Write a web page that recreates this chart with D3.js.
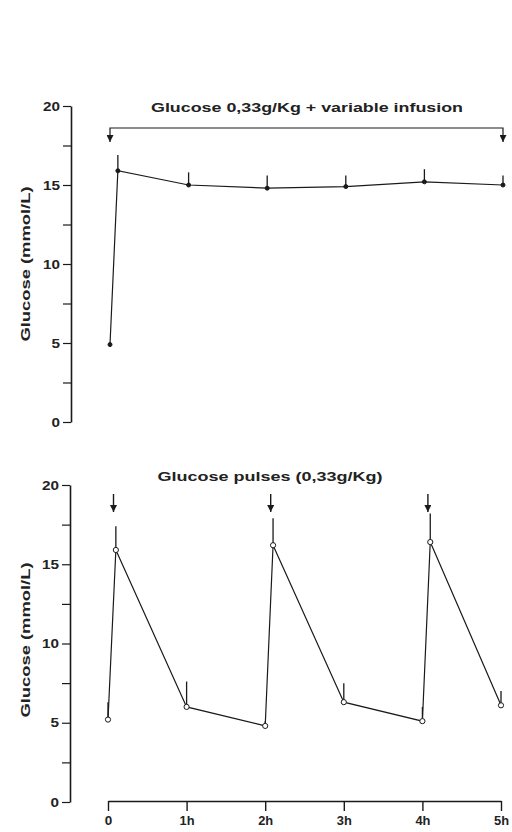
<!DOCTYPE html>
<html>
<head>
<meta charset="utf-8">
<script src="https://cdn.jsdelivr.net/npm/d3@7"></script>
<style>
  body { margin: 0; background: #fff; }
  svg text { font-family: "Liberation Sans", Arial, sans-serif; font-weight: bold; fill: #222; }
</style>
</head>
<body>
<div id="chart"></div>
<script>
// top panel: single bolus + variable infusion (filled dots)
var timesTop = [0, 0.1, 1, 2, 3, 4, 5];
var glucoseTop = [4.9, 15.9, 15.0, 14.8, 14.9, 15.2, 15.0];
var sdTop = [0, 1.0, 0.8, 0.8, 0.7, 0.8, 0.6];

// bottom panel: glucose pulses (open circles)
var timesBottom = [0, 0.1, 1, 2, 2.1, 3, 4, 4.1, 5];
var glucoseBottom = [5.2, 15.9, 6.0, 4.8, 16.2, 6.3, 5.1, 16.4, 6.1];
var sdBottom = [1.1, 1.5, 1.6, 0.3, 1.7, 1.2, 0.9, 1.8, 0.9];

var pulseTimes = [0.07, 2.07, 4.07];
var infusionSpan = [0, 5];

var yTicks = [0, 2.5, 5, 7.5, 10, 12.5, 15, 17.5, 20];
var xTickValues = [0, 1, 2, 3, 4, 5];
var xTickLabels = ["0", "1h", "2h", "3h", "4h", "5h"];

var titleTop = "Glucose 0,33g/Kg + variable infusion";
var titleBottom = "Glucose pulses (0,33g/Kg)";
var yLabel = "Glucose (mmol/L)";

var width = 512, height = 832;
var ink = "#1a1a1a";

var svg = d3.select("#chart").append("svg")
    .attr("width", width)
    .attr("height", height);

// the two panels are not perfectly aligned on the scan
var xTop = d3.scaleLinear().domain([0, 5]).range([110, 503]);
var xBot = d3.scaleLinear().domain([0, 5]).range([108, 501]);
var yTop = d3.scaleLinear().domain([0, 20]).range([422, 106]);
var yBot = d3.scaleLinear().domain([0, 20]).range([802, 485]);

// arrowhead pointing down, tip on the end point
svg.append("defs").append("marker")
    .attr("id", "arrow")
    .attr("viewBox", "0 0 10 10")
    .attr("refX", 5).attr("refY", 10)
    .attr("markerWidth", 7).attr("markerHeight", 7)
    .attr("markerUnits", "userSpaceOnUse")
    .attr("orient", "0")
    .append("path")
    .attr("d", "M0,0 L10,0 L5,10 Z")
    .attr("fill", ink);

// stretch text to the wide face of the scan
function widen(sel, perChar) {
    sel.each(function() {
        var t = d3.select(this), s = t.text();
        if (s) t.attr("textLength", s.length * perChar).attr("lengthAdjust", "spacingAndGlyphs");
    });
}

function yAxis(scale, xpos) {
    var g = svg.append("g")
        .attr("transform", "translate(" + xpos + ",0)")
        .call(d3.axisLeft(scale)
            .tickValues(yTicks)
            .tickSize(8)
            .tickSizeOuter(0)
            .tickPadding(3)
            .tickFormat(function(d) { return d % 5 === 0 ? d : ""; }));
    g.selectAll("path.domain").attr("stroke", ink).attr("stroke-width", 1.6);
    g.selectAll("line").attr("stroke", ink).attr("stroke-width", 1.2);
    g.selectAll("text").style("font-size", "12.5px").attr("fill", ink).call(widen, 8.5);
    return g;
}

function panel(x, scaleY, times, vals, sds, open) {
    var line = d3.line()
        .x(function(d, i) { return x(times[i]); })
        .y(function(d) { return scaleY(d); });

    // error bars (upper SD only)
    svg.append("g").selectAll("line")
        .data(vals)
        .enter().append("line")
        .attr("x1", function(d, i) { return x(times[i]); })
        .attr("x2", function(d, i) { return x(times[i]); })
        .attr("y1", function(d) { return scaleY(d); })
        .attr("y2", function(d, i) { return scaleY(d + sds[i]); })
        .attr("stroke", ink)
        .attr("stroke-width", 1.3);

    svg.append("path")
        .datum(vals)
        .attr("d", line)
        .attr("fill", "none")
        .attr("stroke", ink)
        .attr("stroke-width", 1.2);

    svg.append("g").selectAll("circle")
        .data(vals)
        .enter().append("circle")
        .attr("cx", function(d, i) { return x(times[i]); })
        .attr("cy", function(d) { return scaleY(d); })
        .attr("r", open ? 2.6 : 2)
        .attr("fill", open ? "#fff" : ink)
        .attr("stroke", ink)
        .attr("stroke-width", 1);
}

function yTitle(cy) {
    svg.append("text")
        .attr("transform", "translate(30," + cy + ") rotate(-90)")
        .attr("text-anchor", "middle")
        .style("font-size", "13px")
        .attr("textLength", 155)
        .attr("lengthAdjust", "spacingAndGlyphs")
        .text(yLabel);
}

// ---- top panel ----
yAxis(yTop, 71);
yTitle(264);

svg.append("text")
    .attr("x", 307).attr("y", 112)
    .attr("text-anchor", "middle")
    .style("font-size", "12.5px")
    .attr("textLength", 312)
    .attr("lengthAdjust", "spacingAndGlyphs")
    .text(titleTop);

var bracketY = 128;
svg.append("path")
    .attr("d", "M" + xTop(infusionSpan[0]) + "," + (bracketY + 14) +
               " V" + bracketY + " H" + xTop(infusionSpan[1]) + " V" + (bracketY + 14))
    .attr("fill", "none")
    .attr("stroke", ink)
    .attr("stroke-width", 1.2)
    .attr("marker-start", "url(#arrow)")
    .attr("marker-end", "url(#arrow)");

panel(xTop, yTop, timesTop, glucoseTop, sdTop, false);

// ---- bottom panel ----
yAxis(yBot, 70);
yTitle(640);

svg.append("text")
    .attr("x", 270).attr("y", 481)
    .attr("text-anchor", "middle")
    .style("font-size", "12.5px")
    .attr("textLength", 225)
    .attr("lengthAdjust", "spacingAndGlyphs")
    .text(titleBottom);

svg.append("g").selectAll("line")
    .data(pulseTimes)
    .enter().append("line")
    .attr("x1", function(d) { return xBot(d); })
    .attr("x2", function(d) { return xBot(d); })
    .attr("y1", 494)
    .attr("y2", 512)
    .attr("stroke", ink)
    .attr("stroke-width", 1.4)
    .attr("marker-end", "url(#arrow)");

panel(xBot, yBot, timesBottom, glucoseBottom, sdBottom, true);

var xg = svg.append("g")
    .attr("transform", "translate(0,801)")
    .call(d3.axisBottom(xBot)
        .tickValues(xTickValues)
        .tickSize(10)
        .tickSizeOuter(0)
        .tickPadding(5)
        .tickFormat(function(d, i) { return xTickLabels[i]; }));
xg.selectAll("path.domain").attr("stroke", ink).attr("stroke-width", 1.6);
xg.selectAll("line").attr("stroke", ink).attr("stroke-width", 1.4);
xg.selectAll("text").style("font-size", "12.5px").attr("fill", ink).call(widen, 7.5);
</script>
</body>
</html>
